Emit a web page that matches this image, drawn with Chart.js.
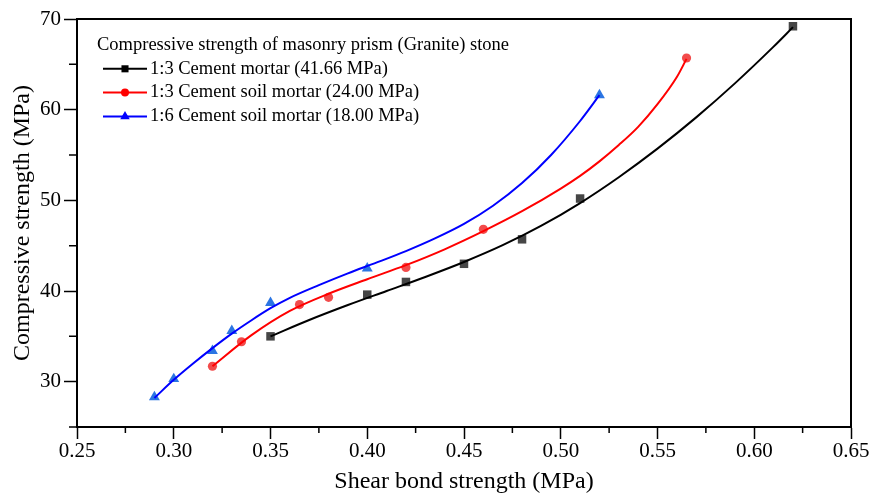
<!DOCTYPE html>
<html>
<head>
<meta charset="utf-8">
<script src="https://cdn.jsdelivr.net/npm/chart.js@4/dist/chart.umd.min.js"></script>
<style>
html,body{margin:0;padding:0;background:#fff;}
#wrap{width:870px;height:493px;position:relative;}
</style>
</head>
<body>
<div id="wrap"><canvas id="c"></canvas></div>
<script>
// ---------- data ----------
const legendTitle = 'Compressive strength of masonry prism (Granite) stone';
const seriesNames = [
  '1:3 Cement mortar (41.66 MPa)',
  '1:3 Cement soil mortar (24.00 MPa)',
  '1:6 Cement soil mortar (18.00 MPa)'
];
const xAxisTitle = 'Shear bond strength (MPa)';
const yAxisTitle = 'Compressive strength (MPa)';

// measured points
const cementX = [0.35, 0.40, 0.42, 0.45, 0.48, 0.51, 0.62];
const cementY = [35.0, 39.6, 41.0, 43.0, 45.7, 50.2, 69.2];
const soil13X = [0.32, 0.335, 0.365, 0.38, 0.42, 0.46, 0.565];
const soil13Y = [31.7, 34.4, 38.5, 39.3, 42.6, 46.8, 65.7];
const soil16X = [0.29, 0.30, 0.32, 0.33, 0.35, 0.40, 0.52];
const soil16Y = [28.3, 30.3, 33.4, 35.6, 38.7, 42.5, 61.6];

// fitted curves
const cementFitX = [0.35, 0.37, 0.39, 0.41, 0.43, 0.45, 0.47, 0.49, 0.51, 0.53, 0.55, 0.57, 0.59, 0.61, 0.62];
const cementFitY = [35.0, 36.8, 38.45, 40.0, 41.55, 43.2, 45.05, 47.2, 49.7, 52.55, 55.7, 59.15, 62.9, 66.95, 69.1];
const soil13FitX = [0.32, 0.34, 0.36, 0.38, 0.40, 0.42, 0.44, 0.46, 0.48, 0.50, 0.51, 0.52, 0.53, 0.54, 0.55, 0.56, 0.565];
const soil13FitY = [31.7, 35.1, 37.8, 39.7, 41.3, 42.85, 44.6, 46.6, 48.8, 51.3, 52.7, 54.3, 56.1, 58.1, 60.6, 63.6, 65.6];
const soil16FitX = [0.29, 0.30, 0.31, 0.32, 0.33, 0.34, 0.35, 0.36, 0.375, 0.39, 0.405, 0.42, 0.435, 0.45, 0.465, 0.48, 0.495, 0.51, 0.52];
const soil16FitY = [28.2, 30.2, 32.0, 33.7, 35.3, 36.75, 38.1, 39.25, 40.65, 41.95, 43.15, 44.4, 45.8, 47.4, 49.4, 51.9, 55.0, 58.75, 61.6];

// axis ranges / ticks
const xMin = 0.25, xMax = 0.65, xStep = 0.05;
const yMin = 25, yMax = 70, yStep = 10;

// ---------- build ----------
const pts = (xs, ys) => xs.map((x, i) => ({x: x, y: ys[i]}));
const FONT = "'Liberation Serif', 'Times New Roman', serif";

function lineDs(xs, ys, color) {
  return {data: pts(xs, ys), showLine: true, borderColor: color, borderWidth: 2,
    pointRadius: 0, pointHoverRadius: 0, tension: 0.4, cubicInterpolationMode: 'monotone',
    fill: false, order: 0};
}
function pointDs(xs, ys, name, style, radius, fill, lineColor, legendRadius) {
  return {label: name, data: pts(xs, ys), showLine: false, pointStyle: style,
    pointRadius: radius, pointHoverRadius: radius, backgroundColor: fill, borderWidth: 0,
    order: 1, isLegend: true, legendLine: lineColor, legendRadius: legendRadius};
}

const datasets = [
  lineDs(cementFitX, cementFitY, '#000000'),
  lineDs(soil13FitX, soil13FitY, '#ff0000'),
  lineDs(soil16FitX, soil16FitY, '#0000ff'),
  pointDs(cementX, cementY, seriesNames[0], 'rect', 6, 'rgba(50,50,50,0.9)', '#000000', 5),
  pointDs(soil13X, soil13Y, seriesNames[1], 'circle', 4.6, 'rgba(240,50,50,0.88)', '#ff0000', 4),
  pointDs(soil16X, soil16Y, seriesNames[2], 'triangle', 6.3, 'rgba(25,105,225,0.92)', '#0000ff', 5.5)
];

const framePlugin = {
  id: 'frame',
  afterDraw(chart) {
    const {ctx, chartArea: a, scales: {x, y}} = chart;
    ctx.save();
    ctx.strokeStyle = '#000';
    ctx.lineWidth = 2;
    ctx.beginPath();
    ctx.moveTo(a.left, a.top);
    ctx.lineTo(a.right, a.top);
    ctx.lineTo(a.right, a.bottom);
    ctx.stroke();
    // minor ticks
    ctx.lineWidth = 1.5;
    ctx.beginPath();
    const xt = x.ticks.map(t => t.value);
    for (let i = 0; i < xt.length - 1; i++) {
      const px = x.getPixelForValue((xt[i] + xt[i + 1]) / 2);
      ctx.moveTo(px, a.bottom);
      ctx.lineTo(px, a.bottom + 6);
    }
    const yt = y.ticks.map(t => t.value);
    const st = yt[1] - yt[0];
    for (let v = yt[0] - st / 2; v < y.max; v += st) {
      if (v < y.min - 1e-9) continue;
      const py = y.getPixelForValue(v);
      ctx.moveTo(a.left - 8, py);
      ctx.lineTo(a.left, py);
    }
    ctx.stroke();
    ctx.restore();
  }
};

const legendPlugin = {
  id: 'innerLegend',
  afterDatasetsDraw(chart) {
    const ctx = chart.ctx;
    const a = chart.chartArea;
    const x0 = a.left + 20, y0 = a.top + 26, rowH = 23.8;
    ctx.save();
    ctx.fillStyle = '#000';
    ctx.font = "18.5px " + FONT;
    ctx.textBaseline = 'middle';
    ctx.textAlign = 'left';
    ctx.fillText(legendTitle, x0, y0);
    let row = 0;
    chart.data.datasets.forEach(ds => {
      if (!ds.isLegend) return;
      row++;
      const yy = y0 + row * rowH;
      ctx.strokeStyle = ds.legendLine;
      ctx.lineWidth = 2;
      ctx.beginPath();
      ctx.moveTo(x0 + 6, yy);
      ctx.lineTo(x0 + 50, yy);
      ctx.stroke();
      ctx.fillStyle = ds.legendLine;
      Chart.helpers.drawPoint(ctx, {pointStyle: ds.pointStyle, radius: ds.legendRadius, rotation: 0, borderWidth: 0}, x0 + 28, yy);
      ctx.fillStyle = '#000';
      ctx.fillText(ds.label, x0 + 53, yy);
    });
    ctx.restore();
  }
};

new Chart(document.getElementById('c'), {
  type: 'scatter',
  data: {datasets: datasets},
  plugins: [framePlugin, legendPlugin],
  options: {
    responsive: true,
    maintainAspectRatio: false,
    animation: false,
    layout: {padding: {top: 19, right: 19, left: 0, bottom: 0}},
    plugins: {legend: {display: false}, tooltip: {enabled: false}},
    scales: {
      x: {
        type: 'linear', min: xMin, max: xMax,
        afterFit: s => { s.height = 66; },
        ticks: {stepSize: xStep, color: '#000', padding: 0, maxRotation: 0, autoSkip: false,
          font: {family: FONT, size: 21}, callback: v => Number(v).toFixed(2)},
        grid: {drawOnChartArea: false, drawTicks: true, tickLength: 12, tickColor: '#000', tickWidth: 1.5},
        border: {display: true, color: '#000', width: 2},
        title: {display: true, text: xAxisTitle, color: '#000',
          font: {family: FONT, size: 24, lineHeight: 1}, padding: {top: 0, bottom: -1}}
      },
      y: {
        type: 'linear', min: yMin, max: yMax,
        afterBuildTicks: s => { s.ticks = s.ticks.filter(t => Math.abs(t.value % yStep) < 1e-9); },
        afterFit: s => { s.width = 77; },
        ticks: {stepSize: yStep, color: '#000', padding: 3, font: {family: FONT, size: 21},
          callback: v => String(v)},
        grid: {drawOnChartArea: false, drawTicks: true, tickLength: 13, tickColor: '#000', tickWidth: 1.5},
        border: {display: true, color: '#000', width: 2},
        title: {display: true, text: yAxisTitle, color: '#000',
          font: {family: FONT, size: 24, lineHeight: 1}, padding: {top: 11, bottom: 0}}
      }
    }
  }
});
</script>
</body>
</html>
